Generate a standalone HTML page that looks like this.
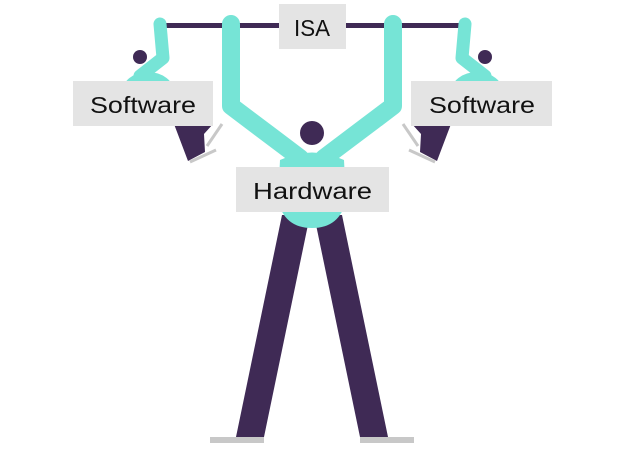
<!DOCTYPE html>
<html><head><meta charset="utf-8"><style>
html,body{margin:0;padding:0;background:#fff;}
svg{display:block}
text{font-family:"Liberation Sans",sans-serif;font-size:23px;fill:#111;}
</style></head><body>
<svg width="625" height="468" viewBox="0 0 625 468" xmlns="http://www.w3.org/2000/svg">
<rect x="155" y="23" width="316" height="5" fill="#3f2a55"/>
<g id="sm">
  <circle cx="140" cy="57" r="7" fill="#3f2a55"/>
  <polyline points="160,24 163,58 140,76" fill="none" stroke="#76e4d6" stroke-width="13" stroke-linecap="round" stroke-linejoin="round"/>
  <ellipse cx="148" cy="92" rx="26" ry="20" fill="#76e4d6"/>
  <polygon points="174,124 213,124 204,134 205,152 188,161" fill="#3f2a55"/>
  <line x1="207" y1="146" x2="222" y2="124" stroke="#c8c8c8" stroke-width="3"/>
  <line x1="190" y1="162" x2="216" y2="150" stroke="#c8c8c8" stroke-width="3"/>
</g>
<use href="#sm" transform="translate(625,0) scale(-1,1)"/>
<polyline points="231,24 231,106 300,158" fill="none" stroke="#76e4d6" stroke-width="18" stroke-linecap="round" stroke-linejoin="round"/>
<polyline points="393,24 393,106 324,158" fill="none" stroke="#76e4d6" stroke-width="18" stroke-linecap="round" stroke-linejoin="round"/>
<circle cx="312" cy="133" r="12" fill="#3f2a55"/>
<polygon points="282,215 310,215 264,437 236,437" fill="#3f2a55"/>
<polygon points="314,215 342,215 388,437 360,437" fill="#3f2a55"/>
<rect x="210" y="437" width="54" height="6" fill="#c8c8c8"/>
<rect x="360" y="437" width="54" height="6" fill="#c8c8c8"/>
<path d="M280,160 Q312,145 344,160 L346,200 Q340,228 312,228 Q284,228 278,200 Z" fill="#76e4d6"/>
<rect x="279" y="4" width="67" height="45" fill="#e4e4e4"/>
<text x="294" y="36" textLength="36" lengthAdjust="spacingAndGlyphs">ISA</text>
<rect x="73" y="81" width="140" height="45" fill="#e4e4e4"/>
<text x="90" y="113" textLength="106" lengthAdjust="spacingAndGlyphs">Software</text>
<rect x="411" y="81" width="141" height="45" fill="#e4e4e4"/>
<text x="429" y="113" textLength="106" lengthAdjust="spacingAndGlyphs">Software</text>
<rect x="236" y="167" width="153" height="45" fill="#e4e4e4"/>
<text x="253" y="199" textLength="119" lengthAdjust="spacingAndGlyphs">Hardware</text>
</svg>
</body></html>
